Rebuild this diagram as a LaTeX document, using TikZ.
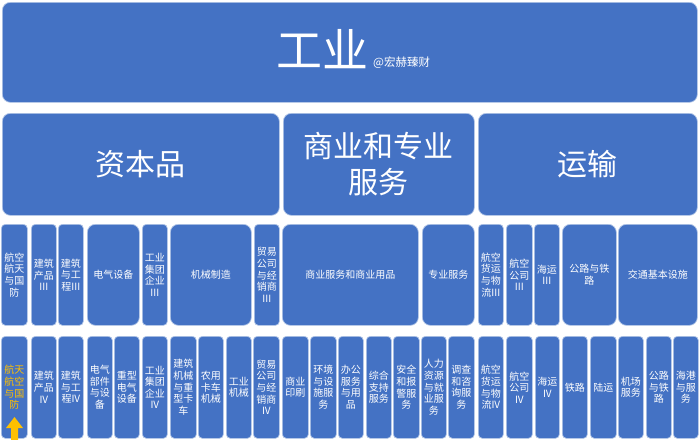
\documentclass[tikz,border=0pt]{standalone}
\usepackage{fontspec}
\newfontfamily\cjk{Noto Sans CJK SC}
\definecolor{boxblue}{HTML}{4472C4}
\definecolor{edge}{HTML}{B4C7E7}
\definecolor{gold}{HTML}{FFC000}
\newcommand\rowcell[5][]{%
  \pgfmathsetmacro\cw{#4-#3}%
  \node[cell,minimum width=\cw pt,#1] (#2) at (#3,\rowtop) {#5};}
\begin{document}
\begin{tikzpicture}[x=1pt,y=-1pt,
  cell/.style={rectangle, draw=edge, line width=0.7pt, fill=boxblue, text=white,
    inner sep=0pt, align=center, anchor=north west, rounded corners=4pt,
    minimum height=\rowh pt, font=\cjk\fontsize{10}{11.6}\selectfont},
  wide/.style={rounded corners=8pt},
  bigtext/.style={font=\cjk\fontsize{30}{36}\selectfont}]
\fill[white] (0,0) rectangle (700,439);
\useasboundingbox (0,0) rectangle (700,439);
% row 1
\def\rowtop{2}\def\rowh{100}
\rowcell[wide]{top}{2}{697}{}
\node[text=white, inner sep=0pt, font=\cjk\fontsize{46}{50}\selectfont] (ind) at (322,49) {工业};
\node[text=white, inner sep=0pt, anchor=base west, font=\cjk\fontsize{11.5}{13}\selectfont] (wm) at (373,66) {@宏赫臻财};
% row 2
\def\rowtop{113}\def\rowh{102}
\rowcell[wide,bigtext]{cap}{2}{279}{资本品}
\rowcell[wide,bigtext]{com}{283}{474}{商业和专业\\服务}
\rowcell[wide,bigtext]{tra}{478}{697}{运输}
% row 3
\def\rowtop{224}\def\rowh{101}
\rowcell{a3}{1}{27}{航空\\航天\\与国\\防}
\rowcell{b3}{31}{56}{建筑\\产品\\III}
\rowcell{c3}{58}{83}{建筑\\与工\\程III}
\rowcell[wide]{d3}{87}{139}{电气设备}
\rowcell{e3}{142}{167}{工业\\集团\\企业\\III}
\rowcell[wide]{f3}{170}{251}{机械制造}
\rowcell{g3}{254}{279}{贸易\\公司\\与经\\销商\\III}
\rowcell[wide]{h3}{282}{418}{商业服务和商业用品}
\rowcell[wide]{i3}{422}{474}{专业服务}
\rowcell{j3}{478}{503}{航空\\货运\\与物\\流III}
\rowcell{k3}{506}{532}{航空\\公司\\III}
\rowcell{l3}{534}{559}{海运\\III}
\rowcell[wide]{m3}{562}{616}{公路与铁\\路}
\rowcell[wide]{n3}{618}{697}{交通基本设施}
% row 4
\def\rowtop{336}\def\rowh{102}
\rowcell[text=gold]{a4}{1}{27}{航天\\航空\\与国\\防}
\rowcell{b4}{31}{56}{建筑\\产品\\IV}
\rowcell{c4}{58}{83}{建筑\\与工\\程IV}
\rowcell{d4}{87}{112}{电气\\部件\\与设\\备}
\rowcell{e4}{114}{139}{重型\\电气\\设备}
\rowcell{f4}{142}{167}{工业\\集团\\企业\\IV}
\rowcell{g4}{170}{196}{建筑\\机械\\与重\\型卡\\车}
\rowcell{h4}{198}{223}{农用\\卡车\\机械}
\rowcell{i4}{226}{251}{工业\\机械}
\rowcell{j4}{253}{279}{贸易\\公司\\与经\\销商\\IV}
\rowcell{k4}{282}{308}{商业\\印刷}
\rowcell{l4}{310}{336}{环境\\与设\\施服\\务}
\rowcell{m4}{338}{363}{办公\\服务\\与用\\品}
\rowcell{n4}{366}{391}{综合\\支持\\服务}
\rowcell{o4}{393}{419}{安全\\和报\\警服\\务}
\rowcell{p4}{421}{446}{人力\\资源\\与就\\业服\\务}
\rowcell{q4}{448}{474}{调查\\和咨\\询服\\务}
\rowcell{r4}{478}{503}{航空\\货运\\与物\\流IV}
\rowcell{s4}{506}{532}{航空\\公司\\IV}
\rowcell{t4}{535}{559}{海运\\IV}
\rowcell{u4}{562}{587}{铁路}
\rowcell{v4}{590}{616}{陆运}
\rowcell{w4}{618}{643}{机场\\服务}
\rowcell{x4}{646}{671}{公路\\与铁\\路}
\rowcell{y4}{673}{698}{海港\\与服\\务}
% yellow arrow
\fill[gold] (14.5,417) -- (23,428) -- (18,428) -- (18,440) -- (11,440) -- (11,428) -- (6,428) -- cycle;
\end{tikzpicture}
\end{document}
